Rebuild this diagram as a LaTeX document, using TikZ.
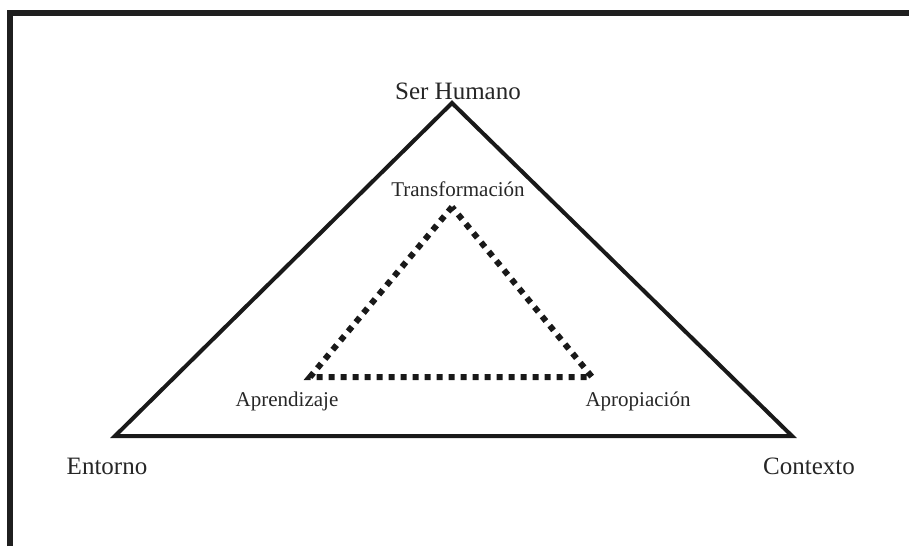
\documentclass[tikz,border=0pt]{standalone}
\usepackage{fontspec}
\setmainfont{Liberation Serif}
\begin{document}
\begin{tikzpicture}[x=1pt,y=-1pt,
  frameline/.style={line width=6pt,draw=black!88},
  outerline/.style={line width=4pt,draw=black!90,line join=miter},
  innerline/.style={line width=6pt,draw=black!90,dash pattern=on 6pt off 6pt},
  bigtxt/.style={font=\fontsize{25}{28}\selectfont,text=black!85,inner sep=0pt,anchor=base},
  smalltxt/.style={font=\fontsize{21}{24}\selectfont,text=black!85,inner sep=0pt,anchor=base}]
\useasboundingbox (0,0) rectangle (909,546);
\coordinate (fbl) at (9.5,546);
\coordinate (ftl) at (9.5,13);
\coordinate (ftr) at (909,13);
\draw[frameline] (fbl) -- (ftl) -- (ftr);
\coordinate (A) at (452,103);
\coordinate (B) at (115,436);
\coordinate (C) at (792,436);
\draw[outerline] (A) -- (B) -- (C) -- cycle;
\coordinate (a) at (452,207);
\coordinate (b) at (310,377);
\coordinate (c) at (592,377);
\draw[innerline] (a) -- (b) -- (c) -- cycle;
\node[bigtxt] (ser) at (458,99) {Ser Humano};
\node[bigtxt] (ent) at (107,474) {Entorno};
\node[bigtxt] (con) at (809,474) {Contexto};
\node[smalltxt] (tra) at (458,196) {Transformación};
\node[smalltxt] (apr) at (287,406) {Aprendizaje};
\node[smalltxt] (apo) at (638,406) {Apropiación};
\end{tikzpicture}
\end{document}
